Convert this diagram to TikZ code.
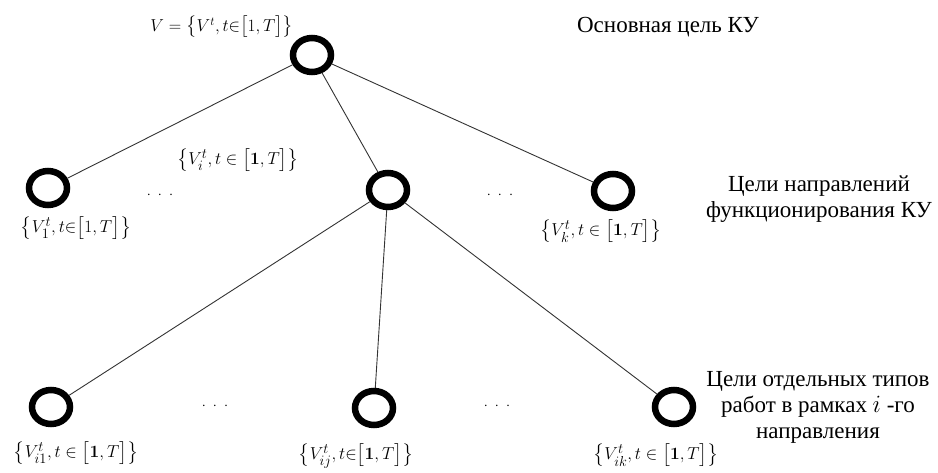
\documentclass[tikz,border=0pt]{standalone}
\usepackage{amsmath, amssymb}
\usepackage[no-math]{fontspec}
\setmainfont{Liberation Serif}
\usepackage{tikz}
\usetikzlibrary{shapes.geometric}

\begin{document}
\begin{tikzpicture}[
    x=1pt, y=-1pt,
    goal/.style={draw, ellipse, line width=6.5pt, fill=white, inner sep=0pt, minimum width=38pt, minimum height=34pt},
    edge/.style={draw=black!80, line width=0.9pt},
    setlbl/.style={font=\fontsize{19}{22}\selectfont, inner sep=0pt},
    levellbl/.style={font=\fontsize{23}{26}\selectfont, align=center, inner sep=0pt},
    dots/.style={font=\fontsize{14}{16}\selectfont, inner sep=0pt}
]
  \useasboundingbox (0,0) rectangle (938,473);

  % Main goal
  \node[goal] (root) at (312,55) {};
  \node[setlbl, font=\fontsize{18}{22}\selectfont] (rootlbl) at (222,27) {$V=\bigl\{V^{t},t{\in}\bigl[1,T\bigr]\bigr\}$};
  \node[levellbl] (lvlone) at (668,27) {Основная цель КУ};

  % Directions
  \node[goal] (dirone) at (48,188) {};
  \node[goal] (diri) at (388,190) {};
  \node[goal] (dirk) at (613,191) {};

  \draw[edge] (root) -- (dirone);
  \draw[edge] (root) -- (diri);
  \draw[edge] (root) -- (dirk);

  \node[setlbl] (dironelbl) at (76,228) {$\bigl\{V_{1}^{t},t{\in}\bigl[1,T\bigr]\bigr\}$};
  \node[setlbl] (dirilbl) at (238,160) {$\bigl\{V_{i}^{t},t\in\bigl[\mathbf{1},T\bigr]\bigr\}$};
  \node[setlbl] (dirklbl) at (601,231) {$\bigl\{V_{k}^{t},t\in\bigl[\mathbf{1},T\bigr]\bigr\}$};
  \node[dots] (dotsa) at (160,195) {$\cdot\;\cdot\;\cdot$};
  \node[dots] (dotsb) at (500,195) {$\cdot\;\cdot\;\cdot$};
  \node[levellbl] (lvltwo) at (819,199) {Цели направлений\\функционирования КУ};

  % Work types of direction i
  \node[goal] (worki) at (51,407) {};
  \node[goal] (workij) at (374,408) {};
  \node[goal] (workik) at (674,407) {};

  \draw[edge] (diri) -- (worki);
  \draw[edge] (diri) -- (workij);
  \draw[edge] (diri) -- (workik);

  \node[setlbl] (workilbl) at (76,453) {$\bigl\{V_{i1}^{t},t\in\bigl[\mathbf{1},T\bigr]\bigr\}$};
  \node[setlbl] (workijlbl) at (356,456) {$\bigl\{V_{ij}^{t},t{\in}\bigl[\mathbf{1},T\bigr]\bigr\}$};
  \node[setlbl] (workiklbl) at (656,455) {$\bigl\{V_{ik}^{t},t\in\bigl[\mathbf{1},T\bigr]\bigr\}$};
  \node[dots] (dotsc) at (215,406) {$\cdot\;\cdot\;\cdot$};
  \node[dots] (dotsd) at (497,406) {$\cdot\;\cdot\;\cdot$};
  \node[levellbl] (lvlthree) at (818,407) {Цели отдельных типов\\работ в рамках $i$ -го\\направления};
\end{tikzpicture}
\end{document}
